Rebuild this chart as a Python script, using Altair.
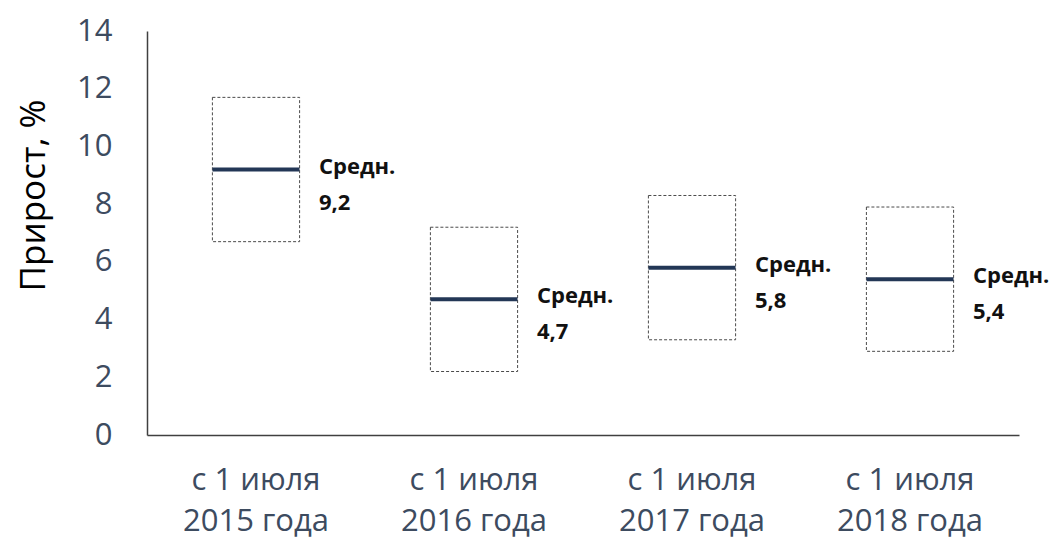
import altair as alt
import pandas as pd

categories = ["с 1 июля|2015 года", "с 1 июля|2016 года", "с 1 июля|2017 года", "с 1 июля|2018 года"]
means = [9.2, 4.7, 5.8, 5.4]
lows = [6.7, 2.2, 3.3, 2.9]
highs = [11.7, 7.2, 8.3, 7.9]
mean_word = "Средн."

df = pd.DataFrame({
    "cat": categories,
    "mean": means,
    "low": lows,
    "high": highs,
})
df["word"] = mean_word
df["val"] = [f"{v:.1f}".replace(".", ",") for v in means]

x = alt.X("cat:N", sort=categories, title=None,
          scale=alt.Scale(paddingInner=0.6, paddingOuter=0.3),
          axis=alt.Axis(labelAngle=0, ticks=False, labelExpr="split(datum.label, '|')",
                        labelFont="Open Sans", labelFontSize=31, labelColor="#3d4b5f",
                        labelLineHeight=41, labelPadding=30, labelBaseline="top",
                        domainColor="#404040", domainWidth=1.5))
y_scale = alt.Scale(domain=[0, 14], nice=False)
y_axis = alt.Axis(values=[0, 2, 4, 6, 8, 10, 12, 14], ticks=False, grid=False,
                  labelFont="Open Sans", labelFontSize=31, labelColor="#3d4b5f",
                  labelPadding=35, domainColor="#404040", domainWidth=1.5,
                  title="Прирост, %", titleFont="Open Sans", titleFontSize=35,
                  titleFontWeight="normal", titleColor="#000000", titleAngle=-90,
                  titleX=-114, titleY=164, titleAlign="center", titleBaseline="middle")

base = alt.Chart(df)

boxes = base.mark_bar(fill="white", stroke="#4a4a4a", strokeWidth=1,
                      strokeDash=[3, 2]).encode(
    x=x,
    y=alt.Y("low:Q", scale=y_scale, axis=y_axis),
    y2="high:Q",
)

mean_ticks = base.mark_tick(color="#233756", opacity=1, thickness=4, size=87).encode(
    x=alt.X("cat:N", sort=categories),
    y=alt.Y("mean:Q", scale=y_scale),
)

word = base.mark_text(align="left", baseline="alphabetic", dx=63, dy=4,
                      font="Open Sans", fontSize=22, fontWeight="bold",
                      color="#111111").encode(
    x=alt.X("cat:N", sort=categories),
    y=alt.Y("mean:Q", scale=y_scale),
    text="word:N",
)

val = base.mark_text(align="left", baseline="alphabetic", dx=63, dy=40,
                     font="Open Sans", fontSize=22, fontWeight="bold",
                     color="#111111").encode(
    x=alt.X("cat:N", sort=categories),
    y=alt.Y("mean:Q", scale=y_scale),
    text="val:N",
)

chart = alt.layer(boxes, mean_ticks, word, val).properties(
    width=872, height=404,
    autosize=alt.AutoSizeParams(type="none"),
    padding={"left": 139, "top": 23, "right": 32, "bottom": 105},
).configure_view(stroke=None).configure_axis(grid=False)

chart.save("out.html", embed_options={"renderer": "svg", "actions": False})
